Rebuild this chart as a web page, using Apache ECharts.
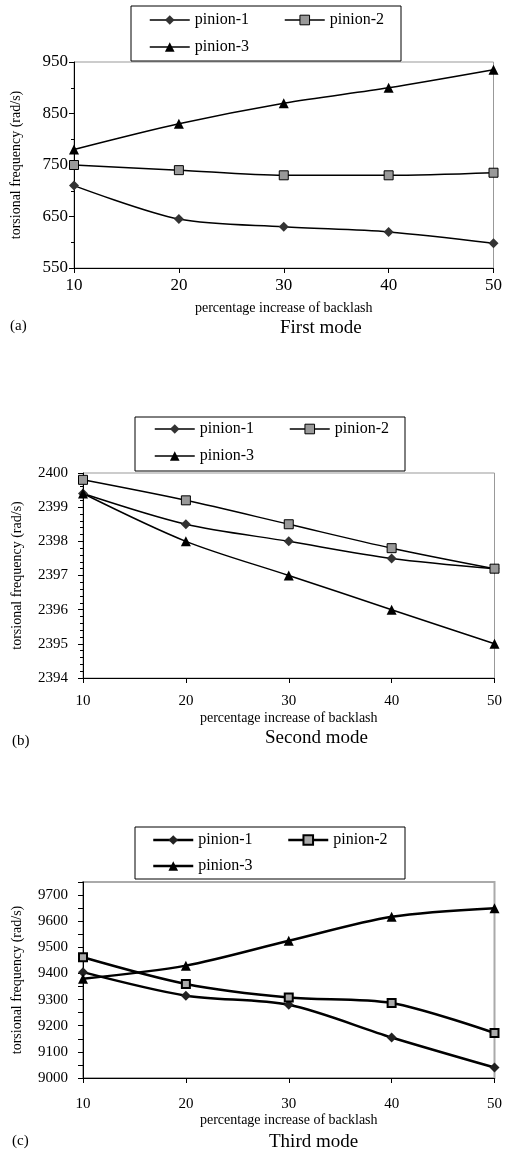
<!DOCTYPE html>
<html>
<head>
<meta charset="utf-8">
<script src="https://cdn.jsdelivr.net/npm/echarts@6/dist/echarts.min.js"></script>
<style>
  html, body { margin: 0; padding: 0; background: #fff; }
  #main { width: 505px; height: 1156px; }
</style>
</head>
<body>
<div id="main"></div>
<script>
// percentage increase of backlash
const backlash = [10, 20, 30, 40, 50];
const seriesNames = ["pinion-1", "pinion-2", "pinion-3"];

// (a) first mode
const firstPinion1 = [710, 645, 630, 620, 598];
const firstPinion2 = [750, 740, 730, 730, 735];
const firstPinion3 = [780, 830, 870, 900, 935];

// (b) second mode
const secondPinion1 = [2399.4, 2398.5, 2398.0, 2397.5, 2397.2];
const secondPinion2 = [2399.8, 2399.2, 2398.5, 2397.8, 2397.2];
const secondPinion3 = [2399.4, 2398.0, 2397.0, 2396.0, 2395.0];

// (c) third mode
const thirdPinion1 = [9405, 9315, 9280, 9155, 9040];
const thirdPinion2 = [9462, 9360, 9308, 9287, 9172];
const thirdPinion3 = [9380, 9430, 9525, 9617, 9650];

const yTicksA = [550, 650, 750, 850, 950];
const yTicksB = [2394, 2395, 2396, 2397, 2398, 2399, 2400];
const yTicksC = [9000, 9100, 9200, 9300, 9400, 9500, 9600, 9700];

const FONT = "Liberation Serif";
const DIAMOND = "path://M0,-1L1,0L0,1L-1,0Z";

var myChart = echarts.init(document.getElementById("main"));

// marker styles, thin for (a)/(b), heavy for (c)
const thinStyles = [
  { symbol: DIAMOND, symbolSize: 10, itemStyle: { color: "#333", borderWidth: 0 } },
  { symbol: "rect", symbolSize: 9, itemStyle: { color: "#999", borderColor: "#000", borderWidth: 1 } },
  { symbol: "triangle", symbolSize: 10, itemStyle: { color: "#000", borderWidth: 0 } },
];
const heavyStyles = [
  { symbol: DIAMOND, symbolSize: 10, itemStyle: { color: "#222", borderWidth: 0 } },
  { symbol: "rect", symbolSize: 8, itemStyle: { color: "#aaa", borderColor: "#000", borderWidth: 2 } },
  { symbol: "triangle", symbolSize: 10, itemStyle: { color: "#000", borderWidth: 0 } },
];

function makeSeries(name, values, idx, st, lineWidth) {
  return {
    name: name,
    type: "line",
    xAxisIndex: idx,
    yAxisIndex: idx,
    data: backlash.map((x, i) => [x, values[i]]),
    smooth: 0.3,
    symbol: st.symbol,
    symbolSize: st.symbolSize,
    symbolKeepAspect: true,
    lineStyle: { color: "#000", width: lineWidth },
    itemStyle: st.itemStyle,
    emphasis: { disabled: true },
    z: 3,
  };
}

// one legend per item so the boxed 2-column layout can be placed exactly
function makeLegends(items, st, lineWidth) {
  return items.map((it, i) => ({
    data: [{
      name: seriesNames[i],
      itemStyle: st[i].itemStyle,
      lineStyle: { color: "#000", width: lineWidth },
    }],
    left: it[0],
    top: it[1] - 8,
    padding: 0,
    z: 20,
    itemWidth: 40,
    itemHeight: 12,
    selectedMode: false,
    textStyle: { fontFamily: FONT, fontSize: 16, color: "#000", padding: [0, 0, 0, 0] },
  }));
}

function makeXAxis(idx, labelMargin, nameGap, labelSize) {
  return {
    gridIndex: idx,
    type: "value",
    min: 10,
    max: 50,
    interval: 10,
    name: "percentage increase of backlash",
    nameLocation: "middle",
    nameGap: nameGap,
    nameTextStyle: { fontFamily: FONT, fontSize: 14, color: "#000" },
    axisLine: { lineStyle: { color: "#000", width: 1 } },
    axisTick: { show: true, length: 5, lineStyle: { color: "#000" } },
    axisLabel: { fontFamily: FONT, fontSize: labelSize, color: "#000", margin: labelMargin },
    splitLine: { show: false },
  };
}

function makeYAxis(idx, min, max, interval, ticks, minorSplit, labelMargin, nameGap, labelSize) {
  return {
    gridIndex: idx,
    type: "value",
    min: min,
    max: max,
    interval: interval,
    name: "torsional frequency (rad/s)",
    nameLocation: "middle",
    nameGap: nameGap,
    nameTextStyle: { fontFamily: FONT, fontSize: 14, color: "#000" },
    axisLine: { show: true, lineStyle: { color: "#000", width: 1 } },
    axisTick: { show: true, length: 5, lineStyle: { color: "#000" } },
    minorTick: { show: minorSplit > 0, splitNumber: minorSplit || 5, length: 3, lineStyle: { color: "#000" } },
    axisLabel: {
      fontFamily: FONT, fontSize: labelSize, color: "#000", margin: labelMargin,
      formatter: (v) => (ticks.indexOf(v) >= 0 ? String(v) : ""),
    },
    splitLine: { show: false },
  };
}

function label(text, x, y, size, align) {
  return {
    type: "text",
    left: x,
    top: y,
    z: 5,
    style: { text: text, font: size + "px '" + FONT + "'", fill: "#000", textAlign: align || "left" },
  };
}

function legendBox(x, y, w, h) {
  return { type: "rect", z: 1, shape: { x: x, y: y, width: w, height: h }, style: { fill: "#fff", stroke: "#000", lineWidth: 1 } };
}

option = {
  animation: false,
  backgroundColor: "#fff",
  grid: [
    { left: 74, right: 7, top: 62, height: 206, show: true, borderColor: "#999", borderWidth: 1, backgroundColor: "transparent" },
    { left: 83, right: 7, top: 473, height: 205, show: true, borderColor: "#999", borderWidth: 1, backgroundColor: "transparent" },
    { left: 83, right: 7, top: 882, height: 196, show: true, borderColor: "#aaa", borderWidth: 2, backgroundColor: "transparent" },
  ],
  xAxis: [
    makeXAxis(0, 9, 33, 17),
    makeXAxis(1, 16, 33, 15),
    makeXAxis(2, 19, 28, 15),
  ],
  yAxis: [
    makeYAxis(0, 550, 950, 100, yTicksA, 2, 6, 51, 17),
    makeYAxis(1, 2394, 2400, 1, yTicksB, 5, 15, 59, 15),
    makeYAxis(2, 9000, 9750, 50, yTicksC, 0, 15, 59, 15),
  ],
  legend: [].concat(
    makeLegends([[149, 20], [284, 20], [149, 47]], thinStyles, 1.5),
    makeLegends([[154, 429], [289, 429], [154, 456]], thinStyles, 1.5),
    makeLegends([[152, 840], [287, 840], [152, 866]], heavyStyles, 2.5)
  ),
  graphic: [
    legendBox(131, 6, 270, 55),
    legendBox(135, 417, 270, 54),
    legendBox(135, 827, 270, 52),
    label("(a)", 10, 319, 15),
    label("First mode", 280, 319, 19, "center"),
    label("(b)", 12, 734, 15),
    label("Second mode", 265, 729, 19, "center"),
    label("(c)", 12, 1134, 15),
    label("Third mode", 269, 1133, 19, "center"),
  ],
  series: [
    makeSeries(seriesNames[0], firstPinion1, 0, thinStyles[0], 1.5),
    makeSeries(seriesNames[1], firstPinion2, 0, thinStyles[1], 1.5),
    makeSeries(seriesNames[2], firstPinion3, 0, thinStyles[2], 1.5),
    makeSeries(seriesNames[0], secondPinion1, 1, thinStyles[0], 1.5),
    makeSeries(seriesNames[1], secondPinion2, 1, thinStyles[1], 1.5),
    makeSeries(seriesNames[2], secondPinion3, 1, thinStyles[2], 1.5),
    makeSeries(seriesNames[0], thirdPinion1, 2, heavyStyles[0], 2.5),
    makeSeries(seriesNames[1], thirdPinion2, 2, heavyStyles[1], 2.5),
    makeSeries(seriesNames[2], thirdPinion3, 2, heavyStyles[2], 2.5),
  ],
};

option && myChart.setOption(option);
</script>
</body>
</html>
